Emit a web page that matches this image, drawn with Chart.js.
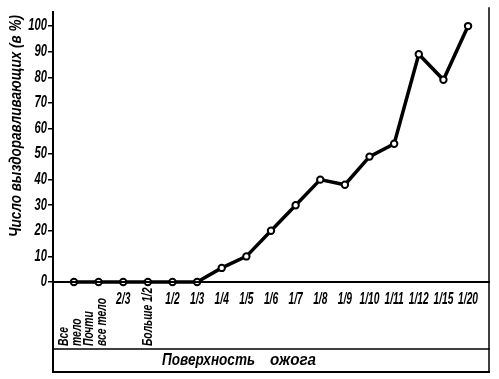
<!DOCTYPE html>
<html><head><meta charset="utf-8">
<script src="https://cdn.jsdelivr.net/npm/chart.js@4"></script>
<style>html,body{margin:0;padding:0;background:#fff}#wrap{width:499px;height:379px}</style>
</head><body><div id="wrap"><canvas id="c" width="499" height="379"></canvas></div>
<script>
const categories = [['Все','тело'], ['Почти','все тело'], '2/3', 'Больше 1/2', '1/2', '1/3', '1/4', '1/5', '1/6', '1/7', '1/8', '1/9', '1/10', '1/11', '1/12', '1/15', '1/20'];
const verticalLabels = [0, 1, 3];
const recovered = [0, 0, 0, 0, 0, 0, 5.5, 10, 20, 30, 40, 38, 49, 54, 89, 79, 100];
const yTicks = [0, 10, 20, 30, 40, 50, 60, 70, 80, 90, 100];
const yTitle = 'Число выздоравливающих (в %)';
const xTitleWords = ['Поверхность', 'ожога'];

const FONT = '"Liberation Sans", Arial, sans-serif';
const SQ = 0.64; // horizontal condensing of the italic label lettering

function condText(ctx, text, x, y, align, sx) {
  ctx.save();
  ctx.translate(x, y);
  ctx.scale(sx, 1);
  ctx.textAlign = align;
  ctx.textBaseline = 'middle';
  ctx.fillText(text, 0, 0);
  ctx.restore();
}
function fitText(ctx, text, x, y, width) {
  const w = ctx.measureText(text).width;
  condText(ctx, text, x, y, 'left', width / w);
}

const framePlugin = {
  id: 'frame',
  afterDraw(chart) {
    const ctx = chart.ctx, x = chart.scales.x, y = chart.scales.y;
    const left = chart.chartArea.left, right = chart.chartArea.right;
    const y0 = y.getPixelForValue(0);
    const boxMid = 349, boxBottom = 372;
    ctx.save();
    ctx.strokeStyle = '#000';
    ctx.lineCap = 'square';
    ctx.lineWidth = 2;
    ctx.beginPath(); ctx.moveTo(left, 12); ctx.lineTo(left, boxBottom); ctx.stroke();
    ctx.lineWidth = 1.5;
    ctx.beginPath(); ctx.moveTo(right, 8); ctx.lineTo(right, boxBottom); ctx.stroke();
    ctx.lineWidth = 2;
    ctx.beginPath(); ctx.moveTo(left, y0); ctx.lineTo(right, y0); ctx.stroke();
    ctx.lineWidth = 1.5;
    ctx.beginPath(); ctx.moveTo(left, boxMid); ctx.lineTo(right, boxMid); ctx.stroke();
    ctx.lineWidth = 2;
    ctx.beginPath(); ctx.moveTo(left, boxBottom); ctx.lineTo(right, boxBottom); ctx.stroke();

    ctx.fillStyle = '#000';
    ctx.font = 'italic bold 16px ' + FONT;
    yTicks.forEach(v => condText(ctx, String(v), 47, y.getPixelForValue(v), 'right', 0.7));
    categories.forEach((lab, i) => {
      const px = x.getPixelForValue(i);
      if (verticalLabels.includes(i)) {
        const lines = Array.isArray(lab) ? lab : [lab];
        const lh = 13;
        ctx.save();
        ctx.font = 'italic bold 14px ' + FONT;
        ctx.translate(px - (lines.length > 1 ? 3 : 0), 346);
        ctx.rotate(-Math.PI / 2);
        lines.forEach((ln, k) => condText(ctx, ln, 0, (k - (lines.length - 1) / 2) * lh, 'left', 0.74));
        ctx.restore();
      } else {
        condText(ctx, lab, px, 300, 'center', SQ);
      }
    });
    ctx.font = 'italic bold 16px ' + FONT;
    fitText(ctx, xTitleWords[0], 162, 361, 93);
    fitText(ctx, xTitleWords[1], 270, 361, 46);
    ctx.font = 'italic bold 17px ' + FONT;
    ctx.save();
    ctx.translate(16, 237);
    ctx.rotate(-Math.PI / 2);
    fitText(ctx, yTitle, 0, 0, 222);
    ctx.restore();
    ctx.restore();
  }
};

new Chart(document.getElementById('c'), {
  type: 'line',
  data: {
    datasets: [{
      data: recovered.map((v, i) => ({x: i, y: v})),
      borderColor: '#000',
      borderWidth: 3.5,
      pointRadius: 3.2,
      pointBorderWidth: 2,
      pointBackgroundColor: '#fff',
      pointBorderColor: '#000',
      tension: 0,
      clip: false
    }]
  },
  options: {
    responsive: false,
    animation: false,
    devicePixelRatio: 1,
    layout: {padding: {top: 12, right: 10, bottom: 97, left: 0}},
    plugins: {legend: {display: false}, tooltip: {enabled: false}},
    scales: {
      x: {type: 'linear', display: false, min: -0.85, max: 16.85},
      y: {
        type: 'linear', min: 0, max: 105.5,
        afterBuildTicks: s => { s.ticks = yTicks.map(v => ({value: v})); },
        afterFit: s => { s.width = 53; },
        border: {display: false},
        grid: {drawOnChartArea: false, drawTicks: true, tickLength: 5, color: '#000', lineWidth: 1.5},
        ticks: {display: false}
      }
    }
  },
  plugins: [framePlugin]
});
</script></body></html>
